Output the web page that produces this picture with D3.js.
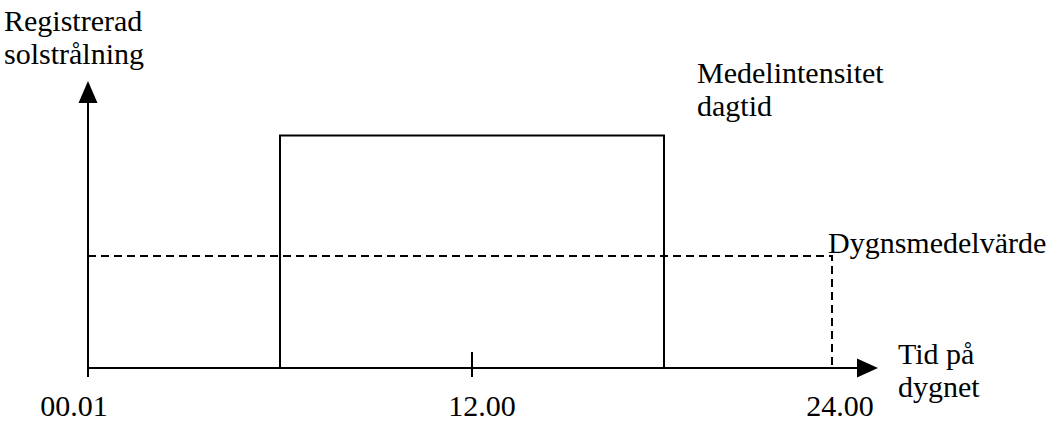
<!DOCTYPE html>
<html><head><meta charset="utf-8">
<script src="https://cdn.jsdelivr.net/npm/d3@7"></script>
<style>
html,body{margin:0;padding:0;background:#fff;}
svg text{font-family:"Liberation Serif","Times New Roman",serif;fill:#000;}
</style></head>
<body><svg id="c" width="1063" height="421"></svg>
<script>
// Data (hours of day, relative radiation intensity)
const hourStops = [0, 12, 24];
const tickLabels = ["00.01", "12.00", "24.00"];
const dayStart = 6.0;
const dayEnd = 18.4;
const dayMean = 81;      // Medelintensitet dagtid
const dailyMean = 39;    // Dygnsmedelvärde
const yMax = 100;

const svg = d3.select("#c");
const x = d3.scaleLinear().domain(hourStops).range([88, 472, 832]);
const y = d3.scaleLinear().domain([0, yMax]).range([368, 81]);
const fs = 30;

// axes
const xEnd = 878, arrowLen = 21, arrowHalf = 9.5;
svg.append("line").attr("x1", x(0)).attr("x2", xEnd - arrowLen + 1)
  .attr("y1", y(0)).attr("y2", y(0)).attr("stroke", "#000").attr("stroke-width", 2);
svg.append("path").attr("d", `M${xEnd},${y(0)} L${xEnd-arrowLen},${y(0)-arrowHalf} L${xEnd-arrowLen},${y(0)+arrowHalf} Z`).attr("fill", "#000");
svg.append("line").attr("x1", x(0)).attr("x2", x(0))
  .attr("y1", y(0) + 9).attr("y2", y(yMax) + arrowLen + 1).attr("stroke", "#000").attr("stroke-width", 2);
svg.append("path").attr("d", `M${x(0)},${y(yMax)} L${x(0)-arrowHalf},${y(yMax)+arrowLen+1} L${x(0)+arrowHalf},${y(yMax)+arrowLen+1} Z`).attr("fill", "#000");

// 12.00 tick
svg.append("line").attr("x1", x(12)).attr("x2", x(12))
  .attr("y1", y(0) - 16).attr("y2", y(0) + 9).attr("stroke", "#000").attr("stroke-width", 2);

// tick labels
const labelShift = [-14, 10, 8];
svg.selectAll("text.tick").data(hourStops).enter().append("text")
  .attr("class", "tick")
  .attr("x", (d, i) => x(d) + labelShift[i])
  .attr("y", 416).attr("text-anchor", "middle").attr("font-size", fs)
  .text((d, i) => tickLabels[i]);

// daytime rectangle
svg.append("path")
  .attr("d", `M${x(dayStart)},${y(0)} L${x(dayStart)},${y(dayMean)} L${x(dayEnd)},${y(dayMean)} L${x(dayEnd)},${y(0)}`)
  .attr("fill", "none").attr("stroke", "#000").attr("stroke-width", 2);

// daily mean dashed
svg.append("path")
  .attr("d", `M${x(0)},${y(dailyMean)} L${x(24)},${y(dailyMean)} L${x(24)},${y(0)}`)
  .attr("fill", "none").attr("stroke", "#000").attr("stroke-width", 2)
  .attr("stroke-dasharray", "8,5");

// labels
const labels = [
  {t: "Registrerad", x: 4, y: 31},
  {t: "solstrålning", x: 4, y: 64},
  {t: "Medelintensitet", x: 697, y: 83},
  {t: "dagtid", x: 697, y: 116},
  {t: "Dygnsmedelvärde", x: 828, y: 253},
  {t: "Tid på", x: 898, y: 364},
  {t: "dygnet", x: 898, y: 397}
];
svg.selectAll("text.lbl").data(labels).enter().append("text")
  .attr("class", "lbl").attr("x", d => d.x).attr("y", d => d.y)
  .attr("font-size", fs).text(d => d.t);
</script></body></html>
